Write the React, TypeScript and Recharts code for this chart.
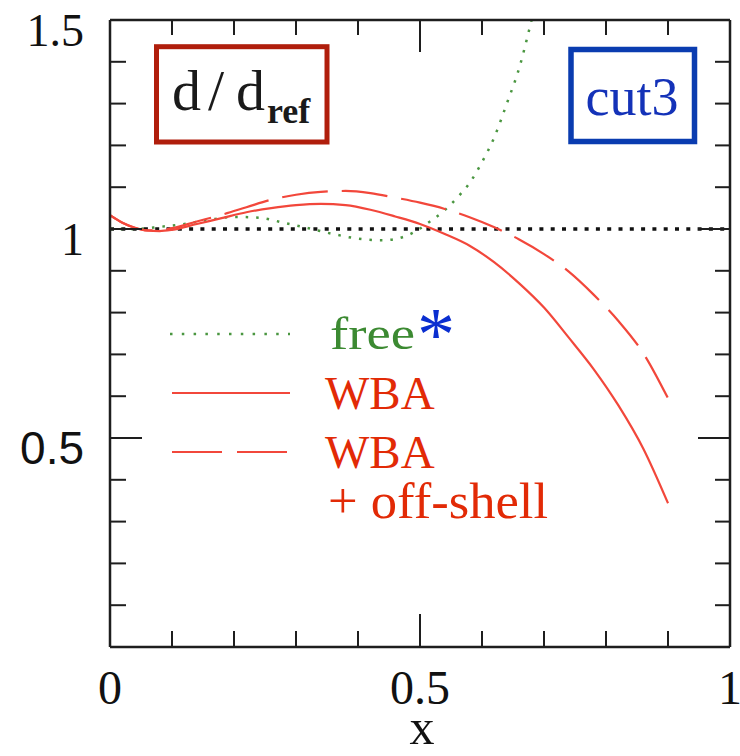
import React from 'react';
import { LineChart, Line, XAxis, YAxis, ReferenceLine, Customized } from 'recharts';

// ---- data ----
const xTicks = [0, 0.1, 0.2, 0.3, 0.4, 0.5, 0.6, 0.7, 0.8, 0.9, 1];
const yTicks = [0, 0.1, 0.2, 0.3, 0.4, 0.5, 0.6, 0.7, 0.8, 0.9, 1, 1.1, 1.2, 1.3, 1.4, 1.5];
const xTickLabels = ['0', '0.5', '1'];
const yTickLabels = ['0.5', '1', '1.5'];

const wbaX = [0, 0.02, 0.04, 0.06, 0.08, 0.1, 0.14, 0.18, 0.22, 0.26, 0.3, 0.34, 0.38, 0.42, 0.46, 0.5, 0.54, 0.58, 0.62, 0.66, 0.7, 0.74, 0.78, 0.82, 0.86, 0.9];
const wbaY = [1.033, 1.015, 1.003, 0.996, 0.995, 0.998, 1.012, 1.026, 1.04, 1.05, 1.057, 1.06, 1.057, 1.046, 1.03, 1.012, 0.988, 0.96, 0.92, 0.87, 0.812, 0.74, 0.665, 0.578, 0.475, 0.344];

const offX = [0, 0.02, 0.04, 0.06, 0.08, 0.1, 0.14, 0.18, 0.22, 0.26, 0.3, 0.34, 0.38, 0.42, 0.46, 0.5, 0.54, 0.58, 0.62, 0.66, 0.7, 0.74, 0.78, 0.82, 0.86, 0.9];
const offY = [1.033, 1.015, 1.003, 0.997, 0.997, 1.002, 1.018, 1.034, 1.052, 1.07, 1.082, 1.089, 1.091, 1.086, 1.075, 1.063, 1.048, 1.028, 1.004, 0.975, 0.94, 0.898, 0.843, 0.78, 0.703, 0.595];

const freeX = [0, 0.04, 0.08, 0.12, 0.16, 0.2, 0.24, 0.28, 0.32, 0.36, 0.4, 0.44, 0.48, 0.52, 0.54, 0.56, 0.58, 0.6, 0.62, 0.64, 0.66, 0.68, 0.69];
const freeY = [1.0, 1.0, 1.005, 1.012, 1.022, 1.029, 1.027, 1.015, 1.002, 0.988, 0.977, 0.973, 0.985, 1.022, 1.045, 1.075, 1.11, 1.16, 1.22, 1.3, 1.385, 1.5, 1.56];

const wbaData = wbaX.map((x, i) => ({ x, y: wbaY[i] }));
const offData = offX.map((x, i) => ({ x, y: offY[i] }));
const freeData = freeX.map((x, i) => ({ x, y: freeY[i] }));

const SERIF = '"Liberation Serif", "Times New Roman", serif';
const SANS = '"Liberation Sans", Arial, sans-serif';
const AXIS = '#1e1e1e';
const LINE_RED = '#f2473b';
const TEXT_RED = '#e22a06';
const GREEN = '#4a9640';
const BLUE = '#1432b8';

const isMajor = (v: number) => Math.abs(v * 2 - Math.round(v * 2)) < 1e-6;
const fmt = (v: number) => String(Math.round(v * 10) / 10);

const BottomTick = (p: any) => {
  const v = p.payload.value;
  const len = isMajor(v) ? 33 : 16;
  const lab = fmt(v);
  return (
    <g>
      <line x1={p.x} x2={p.x} y1={p.y} y2={p.y - len} stroke={AXIS} strokeWidth={2} />
      {xTickLabels.includes(lab) && (
        <text x={p.x} y={p.y + 57} textAnchor="middle" fontSize={48} fontFamily={SERIF} fill="#111">
          {lab}
        </text>
      )}
    </g>
  );
};

const TopTick = (p: any) => {
  const v = p.payload.value;
  const len = isMajor(v) ? 32 : 15;
  return <line x1={p.x} x2={p.x} y1={p.y} y2={p.y + len} stroke={AXIS} strokeWidth={2} />;
};

const LeftTick = (p: any) => {
  const v = p.payload.value;
  const len = isMajor(v) ? 32 : 16;
  const lab = fmt(v);
  return (
    <g>
      <line x1={p.x} x2={p.x + len} y1={p.y} y2={p.y} stroke={AXIS} strokeWidth={2} />
      {yTickLabels.includes(lab) && (
        <text x={84} y={p.y + 26} textAnchor="end" fontSize={46} fontFamily={lab === '0.5' ? SANS : SERIF} fill="#111">
          {lab}
        </text>
      )}
    </g>
  );
};

const RightTick = (p: any) => {
  const v = p.payload.value;
  const len = isMajor(v) ? 32 : 15;
  return <line x1={p.x} x2={p.x - len} y1={p.y} y2={p.y} stroke={AXIS} strokeWidth={2} />;
};

const Overlay = () => (
  <g>
    {/* d/d_ref box */}
    <rect x={156.5} y={46.7} width={170.5} height={95.3} fill="none" stroke="#b01e0c" strokeWidth={5} />
    <text fontFamily={SERIF} fill="#1a1a1a">
      <tspan x={172} y={110} fontSize={58}>d</tspan>
      <tspan x={208} y={110} fontSize={58}>/</tspan>
      <tspan x={236} y={110} fontSize={58}>d</tspan>
      <tspan x={267} y={123} fontSize={36} fontWeight="bold">ref</tspan>
    </text>
    {/* cut3 box */}
    <rect x={571} y={49.5} width={123.5} height={92} fill="none" stroke="#0a3cb0" strokeWidth={5.5} />
    <text x={632} y={115} textAnchor="middle" fontSize={54} fontFamily={SERIF} fill={BLUE}>cut3</text>

    {/* legend */}
    <line x1={170} x2={290} y1={334} y2={334} stroke={GREEN} strokeWidth={2.5} strokeDasharray="2.5 9.3" />
    <text x={330} y={349} fontSize={46} fontFamily={SERIF} fill="#3c8a32" textLength={85} lengthAdjust="spacingAndGlyphs">free</text>
    <text x={417} y={360} fontSize={76} fontFamily={SERIF} fill="#0a2ed0">*</text>

    <line x1={172} x2={290} y1={393} y2={393} stroke={LINE_RED} strokeWidth={2.2} />
    <text x={325} y={409} fontSize={47} fontFamily={SERIF} fill={TEXT_RED}>WBA</text>

    <line x1={172} x2={287} y1={452} y2={452} stroke={LINE_RED} strokeWidth={2.2} strokeDasharray="50 15" />
    <text x={325} y={468} fontSize={47} fontFamily={SERIF} fill={TEXT_RED}>WBA</text>
    <text x={328} y={518} fontSize={50} fontFamily={SERIF} fill={TEXT_RED} textLength={220} lengthAdjust="spacingAndGlyphs">+ off-shell</text>
  </g>
);

export default function App() {
  return (
    <div style={{ position: 'absolute', left: 0, top: 0, background: '#fff' }}>
      <LineChart width={740} height={756} margin={{ top: 0, right: 5, bottom: 0, left: 0 }}>
        <XAxis
          xAxisId="b"
          type="number"
          dataKey="x"
          domain={[0, 1]}
          ticks={xTicks}
          interval={0}
          allowDataOverflow
          height={109}
          tickSize={0}
          tickMargin={0}
          tickLine={false}
          tick={<BottomTick />}
          axisLine={{ stroke: AXIS, strokeWidth: 2.5 }}
        />
        <XAxis
          xAxisId="t"
          orientation="top"
          type="number"
          dataKey="x"
          domain={[0, 1]}
          ticks={xTicks}
          interval={0}
          allowDataOverflow
          height={20}
          tickSize={0}
          tickMargin={0}
          tickLine={false}
          tick={<TopTick />}
          axisLine={{ stroke: AXIS, strokeWidth: 2.5 }}
        />
        <YAxis
          yAxisId="l"
          type="number"
          domain={[0, 1.5]}
          ticks={yTicks}
          interval={0}
          allowDataOverflow
          width={110}
          tickSize={0}
          tickMargin={0}
          tickLine={false}
          tick={<LeftTick />}
          axisLine={{ stroke: AXIS, strokeWidth: 2.5 }}
        />
        <YAxis
          yAxisId="r"
          orientation="right"
          type="number"
          domain={[0, 1.5]}
          ticks={yTicks}
          interval={0}
          allowDataOverflow
          width={5}
          tickSize={0}
          tickMargin={0}
          tickLine={false}
          tick={<RightTick />}
          axisLine={{ stroke: AXIS, strokeWidth: 2.5 }}
        />
        <ReferenceLine xAxisId="b" yAxisId="l" y={1} stroke="#111" strokeWidth={3.5} strokeDasharray="4 7.3" />
        <Line
          xAxisId="b"
          yAxisId="l"
          data={freeData}
          dataKey="y"
          type="monotone"
          stroke={GREEN}
          strokeWidth={2.5}
          strokeDasharray="2.5 8"
          dot={false}
          activeDot={false}
          isAnimationActive={false}
        />
        <Line
          xAxisId="b"
          yAxisId="l"
          data={offData}
          dataKey="y"
          type="monotone"
          stroke={LINE_RED}
          strokeWidth={2.2}
          strokeDasharray="46 14"
          dot={false}
          activeDot={false}
          isAnimationActive={false}
        />
        <Line
          xAxisId="b"
          yAxisId="l"
          data={wbaData}
          dataKey="y"
          type="monotone"
          stroke={LINE_RED}
          strokeWidth={2.2}
          dot={false}
          activeDot={false}
          isAnimationActive={false}
        />
        <Customized component={Overlay} />
        <text x={422} y={744} textAnchor="middle" fontSize={50} fontFamily={SERIF} fill="#111">x</text>
      </LineChart>
    </div>
  );
}
